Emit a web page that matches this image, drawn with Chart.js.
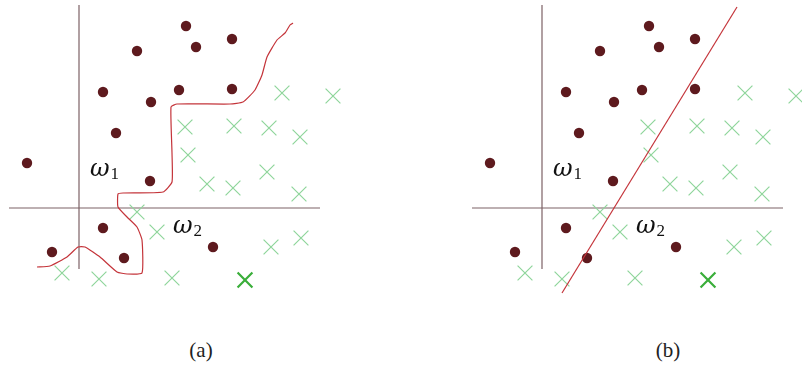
<!DOCTYPE html>
<html>
<head>
<meta charset="utf-8">
<script src="https://cdn.jsdelivr.net/npm/chart.js@4/dist/chart.umd.min.js"></script>
<style>
    html, body { margin: 0; padding: 0; background: #fff; overflow: hidden; }
    body { width: 802px; height: 365px; position: relative; }
    .panel { position: absolute; top: 0; }
    .caption {
        position: absolute; top: 338px; width: 60px; text-align: center;
        font-family: "Liberation Serif", serif; font-size: 21px; color: #222;
    }
</style>
</head>
<body>
<canvas id="chartA" class="panel" width="400" height="300" style="left:0px"></canvas>
<canvas id="chartB" class="panel" width="400" height="300" style="left:463px"></canvas>
<div class="caption" style="left:171px">(a)</div>
<div class="caption" style="left:638px">(b)</div>

<script>
// class 1 samples (dots)
const dotX = [10.7, 15.3, 5.8, 11.7, 2.4, 7.2, 10.0, 15.3, 3.7, -5.2, 7.1, 2.4, -2.7, 4.5, 13.4];
const dotY = [18.2, 16.9, 15.7, 16.1, 11.6, 10.6, 11.8, 11.9, 7.5, 4.5, 2.7, -2.0, -4.4, -5.0, -3.9];

// class 2 samples (crosses)
const crossX = [20.3, 25.4, 10.6, 15.5, 19.0, 22.1, 10.9, 18.8, 12.8, 15.4, 22.0, 5.8, 7.8, 19.2, 22.2, -1.7, 2.0, 9.3];
const crossY = [11.5, 11.2, 8.1, 8.2, 8.0, 7.1, 5.3, 3.6, 2.4, 2.0, 1.4, -0.4, -2.4, -3.9, -3.0, -6.5, -7.1, -7.0];

// the new sample to classify
const testX = [16.6];
const testY = [-7.2];

// (a) wiggly decision boundary
const curveX = [-4.2, -2.9, -1.2, -0.1, 0.6, 2.1, 3.8, 4.8, 6.3, 6.3, 5.8, 4.8, 3.9, 3.9, 4.4, 8.4, 9.3, 9.3, 9.2, 9.8, 15.1, 16.4, 17.6, 18.3, 18.8, 19.8, 20.6, 21.1, 21.4];
const curveY = [-5.9, -5.8, -4.9, -3.9, -3.9, -4.9, -6.4, -6.6, -6.5, -3.2, -1.9, -0.9, 0.1, 1.4, 1.5, 1.6, 2.6, 5.5, 10.1, 10.4, 10.4, 10.6, 11.8, 13.3, 15.1, 16.8, 17.5, 18.3, 18.5];

// (b) linear decision boundary
const lineX = [19.5, 2.0];
const lineY = [20.1, -8.5];

// coordinate axes
const vAxisX = [0, 0];
const vAxisY = [20.3, -6.1];
const hAxisX = [-7.0, 24.1];
const hAxisY = [0, 0];

function toPoints(xs, ys) {
    return xs.map((x, i) => ({x: x, y: ys[i]}));
}

const dotColour = '#5e1a1e';
const crossColour = '#8fd59b';
const testColour = '#3aae3a';
const boundaryColour = '#c4343a';
const axisColour = '#7d6266';

// class labels, placed in data coordinates
const classLabels = [
    {x: 1.1, y: 3.2, sub: '1'},
    {x: 9.4, y: -2.5, sub: '2'}
];

function makeChart(canvasId, bx, by) {
    const ctx = document.getElementById(canvasId).getContext('2d');
    return new Chart(ctx, {
        type: 'scatter',
        data: {
            datasets: [
                {   // boundary
                    data: toPoints(bx, by),
                    showLine: true,
                    borderColor: boundaryColour,
                    borderWidth: 1.2,
                    pointRadius: 0,
                    tension: 0.15
                },
                {
                    data: toPoints(dotX, dotY),
                    pointStyle: 'circle',
                    pointRadius: 5.2,
                    backgroundColor: dotColour,
                    borderColor: dotColour,
                    borderWidth: 0
                },
                {
                    data: toPoints(crossX, crossY),
                    pointStyle: 'crossRot',
                    pointRadius: 10.5,
                    borderColor: crossColour,
                    borderWidth: 1.2
                },
                {
                    data: toPoints(testX, testY),
                    pointStyle: 'crossRot',
                    pointRadius: 10.5,
                    borderColor: testColour,
                    borderWidth: 2.2
                },
                {
                    data: toPoints(vAxisX, vAxisY),
                    showLine: true,
                    borderColor: axisColour,
                    borderWidth: 1.2,
                    pointRadius: 0
                },
                {
                    data: toPoints(hAxisX, hAxisY),
                    showLine: true,
                    borderColor: axisColour,
                    borderWidth: 1.2,
                    pointRadius: 0
                }
            ]
        },
        options: {
            responsive: false,
            animation: false,
            layout: { padding: 0, autoPadding: false },
            scales: {
                x: { type: 'linear', display: false, min: -7.9, max: 32.1 },
                y: { type: 'linear', display: false, min: -9.2, max: 20.8 }
            },
            plugins: {
                legend: { display: false },
                tooltip: { enabled: false }
            }
        },
        plugins: [{
            id: 'classLabels',
            afterDatasetsDraw: (chart) => {
                const c = chart.ctx;
                const xs = chart.scales.x;
                const ys = chart.scales.y;
                c.save();
                c.fillStyle = '#111';
                c.textBaseline = 'alphabetic';
                classLabels.forEach(l => {
                    const px = xs.getPixelForValue(l.x);
                    const py = ys.getPixelForValue(l.y);
                    c.font = 'italic 24px "DejaVu Serif"';
                    c.fillText('\u03c9', px, py);
                    const w = c.measureText('\u03c9').width;
                    c.font = '17px "Liberation Serif"';
                    c.fillText(l.sub, px + w + 1, py + 3);
                });
                c.restore();
            }
        }]
    });
}

makeChart('chartA', curveX, curveY);
makeChart('chartB', lineX, lineY);
</script>
</body>
</html>
